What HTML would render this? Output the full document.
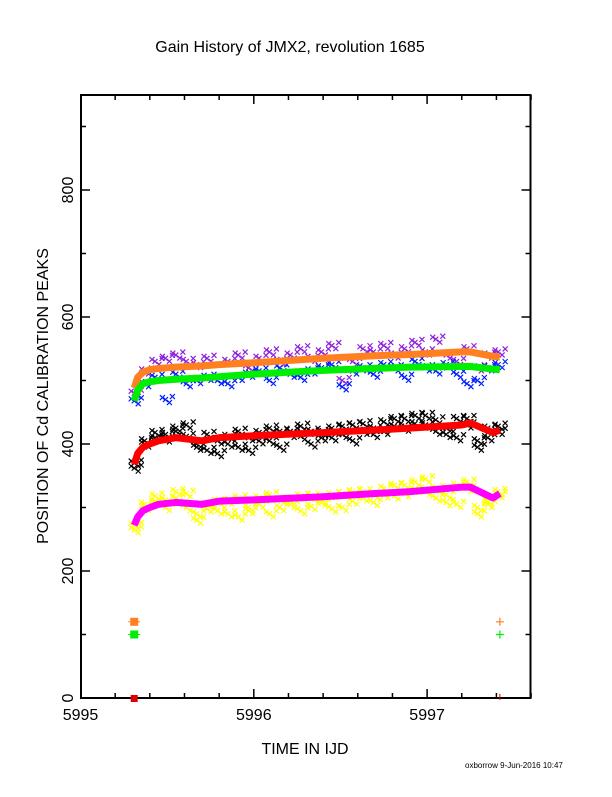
<!DOCTYPE html>
<html><head><meta charset="utf-8"><style>
body{margin:0;background:#fff;}
svg text{font-family:"Liberation Sans",sans-serif;}
</style></head><body>
<svg id="c" width="612" height="792" xmlns="http://www.w3.org/2000/svg">
<rect width="612" height="792" fill="#fff"/>
<text x="290" y="52" font-size="16" text-anchor="middle">Gain History of JMX2, revolution 1685</text>
<text x="305" y="754" font-size="16" text-anchor="middle">TIME IN IJD</text>
<text transform="translate(48,396) rotate(-90)" font-size="16" text-anchor="middle">POSITION OF Cd CALIBRATION PEAKS</text>
<text x="465" y="768" font-size="8">oxborrow  9-Jun-2016 10:47</text>
<g id="axes"></g>
<g id="marks"></g>
</svg>
<script>
const xTicks=[5995,5996,5997];
const yTicks=[0,200,400,600,800];
const times=[5995.31,5995.37,5995.43,5995.49,5995.55,5995.61,5995.67,5995.73,5995.79,5995.85,5995.91,5995.97,5996.03,5996.09,5996.15,5996.21,5996.27,5996.33,5996.39,5996.45,5996.51,5996.57,5996.63,5996.69,5996.75,5996.81,5996.87,5996.93,5996.99,5997.05,5997.11,5997.17,5997.23,5997.29,5997.35,5997.41];
const black1=[362,400,410,415,420,412,395,390,405,400,395,410,418,405,420,415,412,420,410,425,415,430,420,425,435,428,440,432,445,420,425,440,430,405,425,420];
const black2=[370,405,418,408,425,430,400,415,385,412,420,390,405,425,395,420,428,400,418,410,428,405,432,415,420,440,425,445,430,438,415,410,440,395,410,428];
const yellow1=[265,300,310,312,325,300,290,305,295,310,285,300,315,290,312,305,295,318,308,320,300,325,315,320,330,318,335,328,345,315,320,335,330,300,310,320];
const yellow2=[272,305,318,300,315,322,280,298,310,290,315,295,305,320,300,310,318,302,312,298,322,310,325,308,320,335,322,340,325,330,308,305,340,290,305,325];
const blue1=[468,495,505,470,510,495,500,505,500,495,505,510,515,500,520,510,505,515,520,525,490,515,520,510,525,520,505,530,520,515,525,510,495,500,520,525];
const purple1=[480,515,530,535,540,530,525,535,500,530,540,520,535,545,530,540,550,535,545,555,500,530,550,545,555,540,550,560,545,565,540,530,550,520,540,545];
const fitT=[5995.31,5995.33,5995.36,5995.40,5995.45,5995.55,5995.70,5995.80,5996.0,5996.4,5996.7,5996.9,5997.2,5997.25,5997.38,5997.42];
const orangeFit=[488,505,513,517,519,521,523,525,528,535,539,541,545,545,538,537];
const greenFit=[468,485,495,498,500,502,504,506,510,516,519,521,522,522,518,517];
const redFit=[368,385,395,400,405,410,405,410,413,418,422,425,430,433,418,422];
const magentaFit=[272,285,295,300,305,308,305,310,312,317,322,325,332,332,315,322];
const NS="http://www.w3.org/2000/svg";
const X0=80.5,PX=173.3,Y0=698,PY=0.635;
const xs=v=>X0+(v-5995)*PX, ys=v=>Y0-v*PY;
const L=81,R=530.5,T=95,B=698;
const ax=document.getElementById('axes'),mk=document.getElementById('marks');
function el(t,a,p){const e=document.createElementNS(NS,t);for(const k in a)e.setAttribute(k,a[k]);p.appendChild(e);return e;}
const frame=el('rect',{x:L,y:T,width:R-L,height:B-T,fill:'none',stroke:'#000','stroke-width':2},ax);


for(let v=5995.2;v<5997.6;v+=0.2){const x=xs(v);const major=Math.abs(v-Math.round(v))<0.01;const len=major?9:5;
 el('line',{x1:x,x2:x,y1:B,y2:B-len,stroke:'#000','stroke-width':1.5},ax);el('line',{x1:x,x2:x,y1:T,y2:T+len,stroke:'#000','stroke-width':1.5},ax);}
xTicks.forEach(v=>{const t=el('text',{x:xs(v),y:B+22,'font-size':16,'text-anchor':'middle'},ax);t.textContent=v;

});
for(let v=100;v<950;v+=100){const y=ys(v);const len=v%200===0?9:5;
 el('line',{x1:L,x2:L+len,y1:y,y2:y,stroke:'#000','stroke-width':1.5},ax);el('line',{x1:R,x2:R-len,y1:y,y2:y,stroke:'#000','stroke-width':1.5},ax);}
yTicks.forEach(v=>{const t=el('text',{transform:`translate(73,${ys(v)}) rotate(-90)`,'font-size':16,'text-anchor':'middle'},ax);t.textContent=v;

});
function cross(x,y,c,s,name){const g=el('path',{d:`M${x-s},${y-s}L${x+s},${y+s}M${x-s},${y+s}L${x+s},${y-s}`,stroke:c,'stroke-width':1.2},mk);

}
function scatter(arr,c,name){arr.forEach((v,i)=>{const x=xs(times[i]),y=ys(v);cross(x,y,c,2.5,name);cross(x+4,y+3,c,2.5,name);cross(x-3,y-2,c,2.5,name);cross(x+7,y-3,c,2.5,name);});}
scatter(purple1,'#9020e0','purple-point');scatter(blue1,'#0020ff','blue-point');
scatter(black1,'#000','black-point');scatter(black2,'#000','black-point');
scatter(yellow1,'#ffff00','yellow-point');scatter(yellow2,'#ffff00','yellow-point');
function fit(arr,c,name){const p=el('polyline',{points:arr.map((v,i)=>xs(fitT[i])+','+ys(v)).join(' '),fill:'none',stroke:c,'stroke-width':7,'stroke-linejoin':'round'},mk);

}
fit(orangeFit,'#ff8020','orange-fit-line');fit(greenFit,'#00ee00','green-fit-line');fit(redFit,'#ff0000','red-fit-line');fit(magentaFit,'#ff00ff','magenta-fit-line');
const refT=[5995.31,5997.42];
const refVals=[120,100];const refCols=['#ff8020','#00ee00'];
refVals.forEach((v,i)=>{const s=el('rect',{x:xs(refT[0])-4,y:ys(v)-4,width:8,height:8,fill:refCols[i]},mk);


el('path',{d:`M${xs(refT[0])-6},${ys(v)}h12`,stroke:refCols[i]},mk);
const p=el('path',{d:`M${xs(refT[1])-4},${ys(v)}h8M${xs(refT[1])},${ys(v)-4}v8`,stroke:refCols[i],'stroke-width':1.2},mk);

});
const z=el('rect',{x:xs(refT[0])-3.5,y:ys(0)-3,width:7,height:7,fill:'#e00000'},mk);


el('path',{d:`M${xs(refT[1])},${ys(0)-4}v6`,stroke:'#e00000'},mk);
</script>
</body></html>
